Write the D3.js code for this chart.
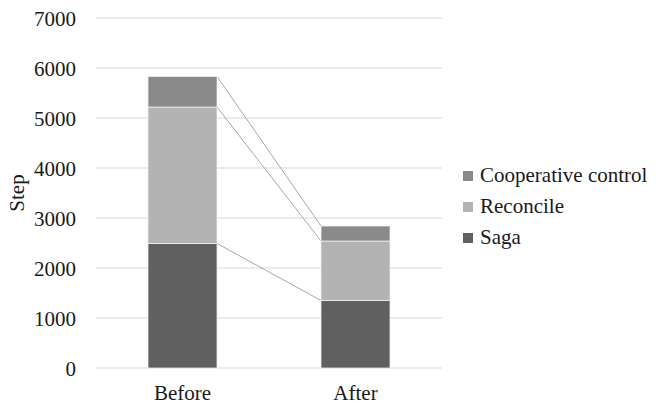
<!DOCTYPE html>
<html><head><meta charset="utf-8">
<script src="https://cdn.jsdelivr.net/npm/d3@7"></script>
<style>body{margin:0;background:#fff}svg text{font-family:'Liberation Serif',Tinos,'Times New Roman',Times,'DejaVu Serif',serif;fill:#1a1a1a}</style>
</head><body><svg id="c" width="656" height="405"></svg>
<script>
const categories = ["Before", "After"];
const seriesNames = ["Saga", "Reconcile", "Cooperative control"];
const saga = [2490, 1350];
const reconcile = [2730, 1190];
const cooperative = [610, 300];
const yTicks = [0, 1000, 2000, 3000, 4000, 5000, 6000, 7000];
const colors = ["#606060", "#b3b3b3", "#8a8a8a"];

(function () {
const rows = categories.map((c, i) => ({cat: c, Saga: saga[i], Reconcile: reconcile[i], "Cooperative control": cooperative[i]}));
const stacked = d3.stack().keys(seriesNames)(rows);

const svg = d3.select("#c");
const pLeft = 96, pRight = 442, pTop = 18, pBottom = 368;
const bw = 69;
const xs = d3.scalePoint().domain(categories).range([pLeft + 86.5, pRight - 86.5]);
const y = d3.scaleLinear().domain([0, 7000]).range([pBottom, pTop]);

// grid
svg.append("g").selectAll("line").data(yTicks).join("line")
  .attr("x1", pLeft).attr("x2", pRight)
  .attr("y1", d => y(d)).attr("y2", d => y(d))
  .attr("stroke", "#d9d9d9").attr("stroke-width", 1);

// y tick labels
const yAxis = d3.axisLeft(y).tickValues(yTicks).tickFormat(d3.format("d")).tickSize(0).tickPadding(20);
const ga = svg.append("g").attr("transform", `translate(${pLeft},0)`).call(yAxis);
ga.attr("font-family", null).attr("font-size", null);
ga.select(".domain").remove();
ga.selectAll("text").attr("font-size", 21).attr("fill", "#1a1a1a").attr("dy", "0.34em");

// connectors
stacked.forEach(s => {
  svg.append("line")
    .attr("x1", xs("Before") + bw / 2).attr("y1", y(s[0][1]))
    .attr("x2", xs("After") - bw / 2).attr("y2", y(s[1][1]))
    .attr("stroke", "#a6a6a6").attr("stroke-width", 1);
});

// bars
svg.append("g").selectAll("g").data(stacked).join("g")
  .attr("fill", (d, i) => colors[i])
  .selectAll("rect").data(d => d).join("rect")
  .attr("x", d => xs(d.data.cat) - bw / 2)
  .attr("width", bw)
  .attr("y", d => y(d[1]))
  .attr("height", d => y(d[0]) - y(d[1]))
  .attr("stroke", "#f2f2f2").attr("stroke-width", 0.75);

// x labels
svg.append("g").selectAll("text").data(categories).join("text")
  .attr("x", d => xs(d)).attr("y", 400)
  .attr("text-anchor", "middle").attr("font-size", 21).text(d => d);

// y title
svg.append("text").attr("transform", "translate(24,193) rotate(-90)")
  .attr("text-anchor", "middle").attr("font-size", 21).text("Step");

// legend
const legendOrder = ["Cooperative control", "Reconcile", "Saga"];
const lg = svg.append("g").selectAll("g").data(legendOrder).join("g")
  .attr("transform", (d, i) => `translate(463,${182 + i * 31})`);
lg.append("rect").attr("x", 0).attr("y", -11).attr("width", 10).attr("height", 10)
  .attr("fill", d => colors[seriesNames.indexOf(d)]);
lg.append("text").attr("x", 17).attr("y", 0).attr("font-size", 21).text(d => d);
})();
</script></body></html>
